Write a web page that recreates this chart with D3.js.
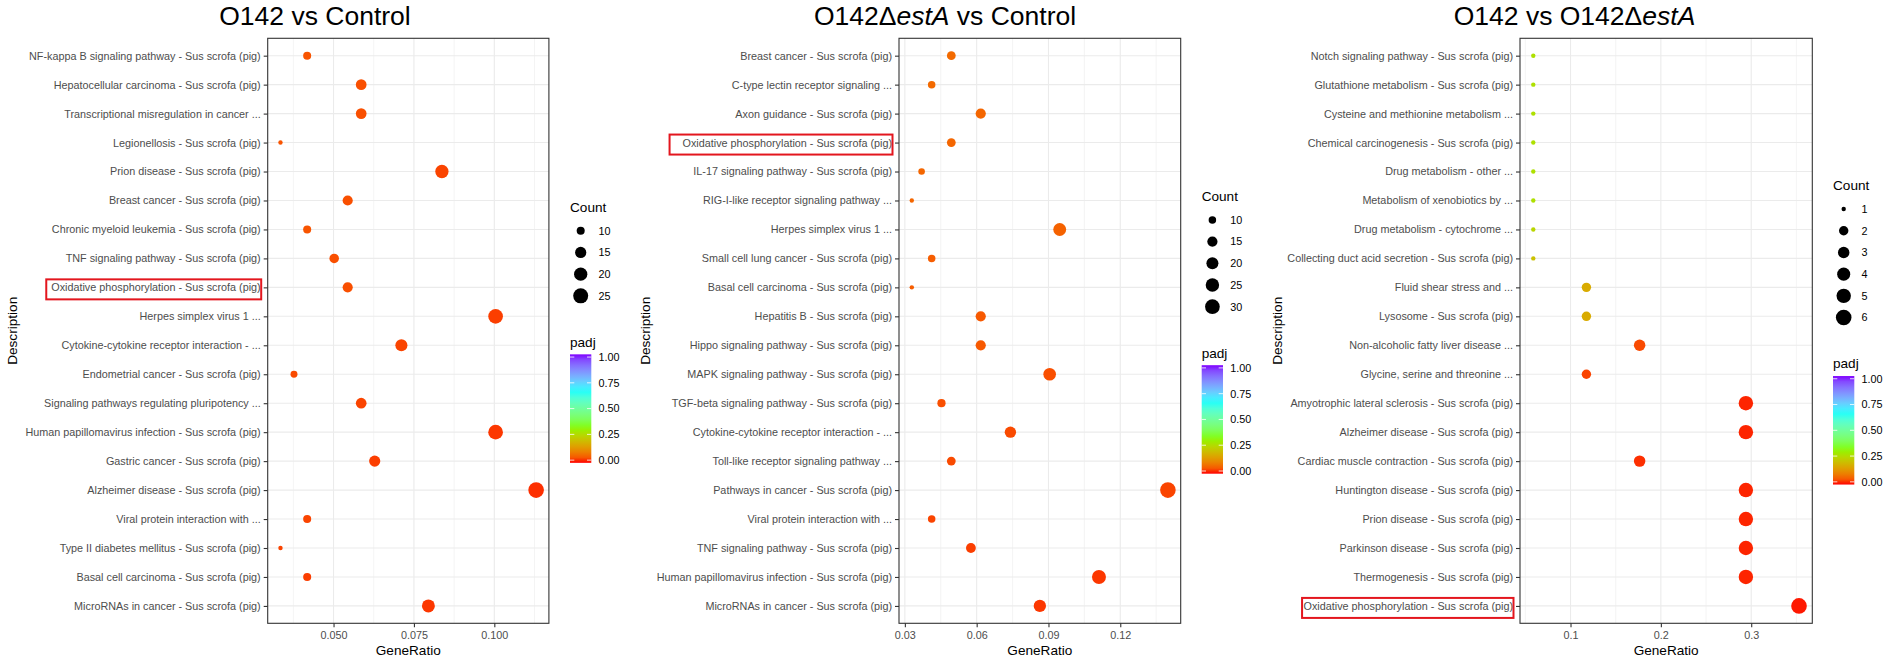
<!DOCTYPE html>
<html>
<head>
<meta charset="utf-8">
<script src="https://cdn.jsdelivr.net/npm/d3@7"></script>
<style>
  body { margin: 0; background: #fff; }
  text { font-family: "Liberation Sans", Arial, Helvetica, sans-serif; }
</style>
</head>
<body>
<svg id="chart" width="1889" height="663"></svg>
<script>
// ---- O142 vs Control ----
const terms1 = [
  'NF-kappa B signaling pathway - Sus scrofa (pig)',
  'Hepatocellular carcinoma - Sus scrofa (pig)',
  'Transcriptional misregulation in cancer ...',
  'Legionellosis - Sus scrofa (pig)',
  'Prion disease - Sus scrofa (pig)',
  'Breast cancer - Sus scrofa (pig)',
  'Chronic myeloid leukemia - Sus scrofa (pig)',
  'TNF signaling pathway - Sus scrofa (pig)',
  'Oxidative phosphorylation - Sus scrofa (pig)',
  'Herpes simplex virus 1 ...',
  'Cytokine-cytokine receptor interaction - ...',
  'Endometrial cancer - Sus scrofa (pig)',
  'Signaling pathways regulating pluripotency ...',
  'Human papillomavirus infection - Sus scrofa (pig)',
  'Gastric cancer - Sus scrofa (pig)',
  'Alzheimer disease - Sus scrofa (pig)',
  'Viral protein interaction with ...',
  'Type II diabetes mellitus - Sus scrofa (pig)',
  'Basal cell carcinoma - Sus scrofa (pig)',
  'MicroRNAs in cancer - Sus scrofa (pig)'
]
const ratio1 = [0.0418, 0.0586, 0.0586, 0.0335, 0.0837, 0.0544, 0.0418, 0.0502, 0.0544, 0.1004,
                0.0711, 0.0377, 0.0586, 0.1004, 0.0628, 0.1130, 0.0418, 0.0335, 0.0418, 0.0795]
const count1 = [10, 14, 14, 8, 20, 13, 10, 12, 13, 24, 17, 9, 14, 24, 15, 27, 10, 8, 10, 19]
const padj1 = [0.045, 0.04, 0.04, 0.045, 0.03, 0.04, 0.045, 0.04, 0.04, 0.025,
               0.03, 0.035, 0.03, 0.02, 0.025, 0.015, 0.03, 0.03, 0.025, 0.02]
const xTicks1 = [0.05, 0.075, 0.1]
const countBreaks1 = [10, 15, 20, 25]

// ---- O142ΔestA vs Control ----
const terms2 = [
  'Breast cancer - Sus scrofa (pig)',
  'C-type lectin receptor signaling ...',
  'Axon guidance - Sus scrofa (pig)',
  'Oxidative phosphorylation - Sus scrofa (pig)',
  'IL-17 signaling pathway - Sus scrofa (pig)',
  'RIG-I-like receptor signaling pathway ...',
  'Herpes simplex virus 1 ...',
  'Small cell lung cancer - Sus scrofa (pig)',
  'Basal cell carcinoma - Sus scrofa (pig)',
  'Hepatitis B - Sus scrofa (pig)',
  'Hippo signaling pathway - Sus scrofa (pig)',
  'MAPK signaling pathway - Sus scrofa (pig)',
  'TGF-beta signaling pathway - Sus scrofa (pig)',
  'Cytokine-cytokine receptor interaction - ...',
  'Toll-like receptor signaling pathway ...',
  'Pathways in cancer - Sus scrofa (pig)',
  'Viral protein interaction with ...',
  'TNF signaling pathway - Sus scrofa (pig)',
  'Human papillomavirus infection - Sus scrofa (pig)',
  'MicroRNAs in cancer - Sus scrofa (pig)'
]
const ratio2 = [0.0494, 0.0412, 0.0617, 0.0494, 0.0370, 0.0329, 0.0947, 0.0412, 0.0329, 0.0617,
                0.0617, 0.0905, 0.0453, 0.0741, 0.0494, 0.1399, 0.0412, 0.0576, 0.1111, 0.0864]
const count2 = [12, 10, 15, 12, 9, 8, 23, 10, 8, 15, 15, 22, 11, 18, 12, 34, 10, 14, 27, 21]
const padj2 = [0.07, 0.07, 0.065, 0.065, 0.065, 0.065, 0.06, 0.055, 0.055, 0.05,
               0.05, 0.04, 0.04, 0.035, 0.035, 0.03, 0.03, 0.025, 0.02, 0.02]
const xTicks2 = [0.03, 0.06, 0.09, 0.12]
const countBreaks2 = [10, 15, 20, 25, 30]

// ---- O142 vs O142ΔestA ----
const terms3 = [
  'Notch signaling pathway - Sus scrofa (pig)',
  'Glutathione metabolism - Sus scrofa (pig)',
  'Cysteine and methionine metabolism ...',
  'Chemical carcinogenesis - Sus scrofa (pig)',
  'Drug metabolism - other ...',
  'Metabolism of xenobiotics by ...',
  'Drug metabolism - cytochrome ...',
  'Collecting duct acid secretion - Sus scrofa (pig)',
  'Fluid shear stress and ...',
  'Lysosome - Sus scrofa (pig)',
  'Non-alcoholic fatty liver disease ...',
  'Glycine, serine and threonine ...',
  'Amyotrophic lateral sclerosis - Sus scrofa (pig)',
  'Alzheimer disease - Sus scrofa (pig)',
  'Cardiac muscle contraction - Sus scrofa (pig)',
  'Huntington disease - Sus scrofa (pig)',
  'Prion disease - Sus scrofa (pig)',
  'Parkinson disease - Sus scrofa (pig)',
  'Thermogenesis - Sus scrofa (pig)',
  'Oxidative phosphorylation - Sus scrofa (pig)'
]
const ratio3 = [0.0588, 0.0588, 0.0588, 0.0588, 0.0588, 0.0588, 0.0588, 0.0588, 0.1176, 0.1176,
                0.1765, 0.1176, 0.2941, 0.2941, 0.1765, 0.2941, 0.2941, 0.2941, 0.2941, 0.3529]
const count3 = [1, 1, 1, 1, 1, 1, 1, 1, 2, 2, 3, 2, 5, 5, 3, 5, 5, 5, 5, 6]
const padj3 = [0.27, 0.27, 0.27, 0.27, 0.27, 0.27, 0.25, 0.21, 0.17, 0.17,
               0.035, 0.03, 0.01, 0.01, 0.015, 0.01, 0.01, 0.01, 0.01, 0.005]
const xTicks3 = [0.1, 0.2, 0.3]
const countBreaks3 = [1, 2, 3, 4, 5, 6]

const padjBreaks = [0, 0.25, 0.5, 0.75, 1]
const highlight = 'Oxidative phosphorylation - Sus scrofa (pig)'

const panels = [
  { title: [['O142 vs Control', false]], terms: terms1, ratio: ratio1, count: count1, padj: padj1,
    ticks: xTicks1, fmt: '.3f', breaks: countBreaks1,
    cx: 315, left: 267.7, right: 548.9, descX: 17, legX: 570, boxPad: 5 },
  { title: [['O142Δ', false], ['estA', true], [' vs Control', false]], terms: terms2, ratio: ratio2, count: count2, padj: padj2,
    ticks: xTicks2, fmt: '.2f', breaks: countBreaks2,
    cx: 945, left: 899, right: 1180.7, descX: 650, legX: 1201.7, boxPad: 13 },
  { title: [['O142 vs O142Δ', false], ['estA', true]], terms: terms3, ratio: ratio3, count: count3, padj: padj3,
    ticks: xTicks3, fmt: '.1f', breaks: countBreaks3,
    cx: 1574.5, left: 1520, right: 1812.3, descX: 1281.6, legX: 1833, boxPad: 1.5 }
]

const plotTop = 38.3
const plotBottom = 623.3
const midY = (plotTop + plotBottom) / 2

const padjColor = d3.scaleLinear()
  .domain([0, 1 / 3, 2 / 3, 1])
  .range(['#ff0000', '#80ff00', '#00ffff', '#8000ff'])
  .interpolate(d3.interpolateLab)

const svg = d3.select('#chart')
const defs = svg.append('defs')

const grad = defs.append('linearGradient')
  .attr('id', 'padjGrad')
  .attr('x1', 0).attr('y1', 1).attr('x2', 0).attr('y2', 0)
grad.selectAll('stop')
  .data(d3.range(0, 1.0001, 0.05))
  .join('stop')
  .attr('offset', d => d)
  .attr('stop-color', d => padjColor(d))

panels.forEach((p, pi) => {
  const g = svg.append('g')

  // title
  const title = g.append('text')
    .attr('x', p.cx).attr('y', 25)
    .attr('text-anchor', 'middle')
    .attr('font-size', 26.5)
    .attr('fill', '#000')
  p.title.forEach(([t, it]) => {
    title.append('tspan').text(t).attr('font-style', it ? 'italic' : 'normal')
  })

  // scales
  const [lo, hi] = d3.extent(p.ratio)
  const ex = (hi - lo) * 0.05
  const x = d3.scaleLinear().domain([lo - ex, hi + ex]).range([p.left, p.right])
  const y = d3.scalePoint().domain(p.terms).range([plotTop, plotBottom]).padding(0.6)

  const [cMin, cMax] = d3.extent(p.count)
  const rs = d3.scaleSqrt().domain([0, cMax - cMin]).range([2.2, 7.8])
  const radius = c => rs(Math.max(0, c - cMin))

  // grid
  const step = p.ticks[1] - p.ticks[0]
  const dom = x.domain()
  const minor = [p.ticks[0] - step / 2, ...p.ticks.map(t => t + step / 2)]
    .filter(v => v > dom[0] && v < dom[1])

  const grid = g.append('g')
  grid.selectAll('line.minor')
    .data(minor)
    .join('line')
    .attr('x1', d => x(d)).attr('x2', d => x(d))
    .attr('y1', plotTop).attr('y2', plotBottom)
    .attr('stroke', '#ededed').attr('stroke-width', 0.6)
  grid.selectAll('line.vmajor')
    .data(p.ticks)
    .join('line')
    .attr('x1', d => x(d)).attr('x2', d => x(d))
    .attr('y1', plotTop).attr('y2', plotBottom)
    .attr('stroke', '#ebebeb').attr('stroke-width', 1.1)
  grid.selectAll('line.hmajor')
    .data(p.terms)
    .join('line')
    .attr('x1', p.left).attr('x2', p.right)
    .attr('y1', d => y(d)).attr('y2', d => y(d))
    .attr('stroke', '#ebebeb').attr('stroke-width', 1.1)

  // points
  g.append('g')
    .selectAll('circle')
    .data(p.terms.map((t, i) => ({ term: t, ratio: p.ratio[i], count: p.count[i], padj: p.padj[i] })))
    .join('circle')
    .attr('cx', d => x(d.ratio))
    .attr('cy', d => y(d.term))
    .attr('r', d => radius(d.count))
    .attr('fill', d => padjColor(d.padj))

  // border
  g.append('rect')
    .attr('x', p.left).attr('y', plotTop)
    .attr('width', p.right - p.left).attr('height', plotBottom - plotTop)
    .attr('fill', 'none').attr('stroke', '#333').attr('stroke-width', 1.1)

  // axes
  const yAxis = g.append('g')
    .attr('transform', `translate(${p.left},0)`)
    .call(d3.axisLeft(y).tickSize(4).tickPadding(3))
  yAxis.select('.domain').remove()
  yAxis.selectAll('line').attr('stroke', '#333').attr('stroke-width', 1.1)
  yAxis.selectAll('text')
    .attr('font-family', null)
    .attr('font-size', 10.8)
    .attr('fill', '#4d4d4d')

  // red highlight box
  yAxis.selectAll('.tick')
    .filter(d => d === highlight)
    .each(function (d) {
      const bb = d3.select(this).select('text').node().getBBox()
      d3.select(this).append('rect')
        .attr('x', bb.x - p.boxPad)
        .attr('y', -8.5)
        .attr('width', bb.width + p.boxPad + 0.5)
        .attr('height', 20)
        .attr('fill', 'none')
        .attr('stroke', '#e3161e')
        .attr('stroke-width', 2)
    })

  const xAxis = g.append('g')
    .attr('transform', `translate(0,${plotBottom})`)
    .call(d3.axisBottom(x).tickValues(p.ticks).tickFormat(d3.format(p.fmt)).tickSize(4).tickPadding(4))
  xAxis.select('.domain').remove()
  xAxis.selectAll('line').attr('stroke', '#333').attr('stroke-width', 1.1)
  xAxis.selectAll('text')
    .attr('font-family', null)
    .attr('font-size', 10.8)
    .attr('fill', '#4d4d4d')

  g.append('text')
    .attr('x', (p.left + p.right) / 2).attr('y', 655)
    .attr('text-anchor', 'middle')
    .attr('font-size', 13.6)
    .text('GeneRatio')

  g.append('text')
    .attr('transform', `translate(${p.descX},${midY}) rotate(-90)`)
    .attr('text-anchor', 'middle')
    .attr('font-size', 13.6)
    .text('Description')

  // legends
  const n = p.breaks.length
  const keyStep = 21.7
  const c0 = midY - (24 + (n - 1) * keyStep + 46 + 12.5 + 108.5 - 8) / 2
  const leg = g.append('g')

  leg.append('text')
    .attr('x', p.legX).attr('y', c0 + 4.9)
    .attr('font-size', 13.6)
    .text('Count')

  const keys = leg.selectAll('g.key')
    .data(p.breaks)
    .join('g')
    .attr('transform', (d, i) => `translate(${p.legX + 10.7},${c0 + 24 + i * keyStep})`)
  keys.append('circle')
    .attr('r', d => radius(d))
    .attr('fill', '#000')
  keys.append('text')
    .attr('x', 17.8).attr('dy', '0.36em')
    .attr('font-size', 10.8)
    .text(d => d)

  const padjTitleY = c0 + 24 + (n - 1) * keyStep + 46
  leg.append('text')
    .attr('x', p.legX).attr('y', padjTitleY + 4.9)
    .attr('font-size', 13.6)
    .text('padj')

  const barTop = padjTitleY + 12.5
  const barBottom = barTop + 108.5
  const barW = 21.3
  const yBar = d3.scaleLinear().domain([0, 1]).range([barBottom - 2.7, barTop + 2.7])

  leg.append('rect')
    .attr('x', p.legX).attr('y', barTop)
    .attr('width', barW).attr('height', barBottom - barTop)
    .attr('fill', 'url(#padjGrad)')

  const barTicks = leg.selectAll('g.bt')
    .data(padjBreaks)
    .join('g')
    .attr('transform', d => `translate(0,${yBar(d)})`)
  barTicks.append('line')
    .attr('x1', p.legX).attr('x2', p.legX + 4.3)
    .attr('stroke', '#fff').attr('stroke-width', 0.8)
  barTicks.append('line')
    .attr('x1', p.legX + barW - 4.3).attr('x2', p.legX + barW)
    .attr('stroke', '#fff').attr('stroke-width', 0.8)
  barTicks.append('text')
    .attr('x', p.legX + 28.5).attr('dy', '0.36em')
    .attr('font-size', 10.8)
    .text(d => d3.format('.2f')(d))
})
</script>
</body>
</html>
